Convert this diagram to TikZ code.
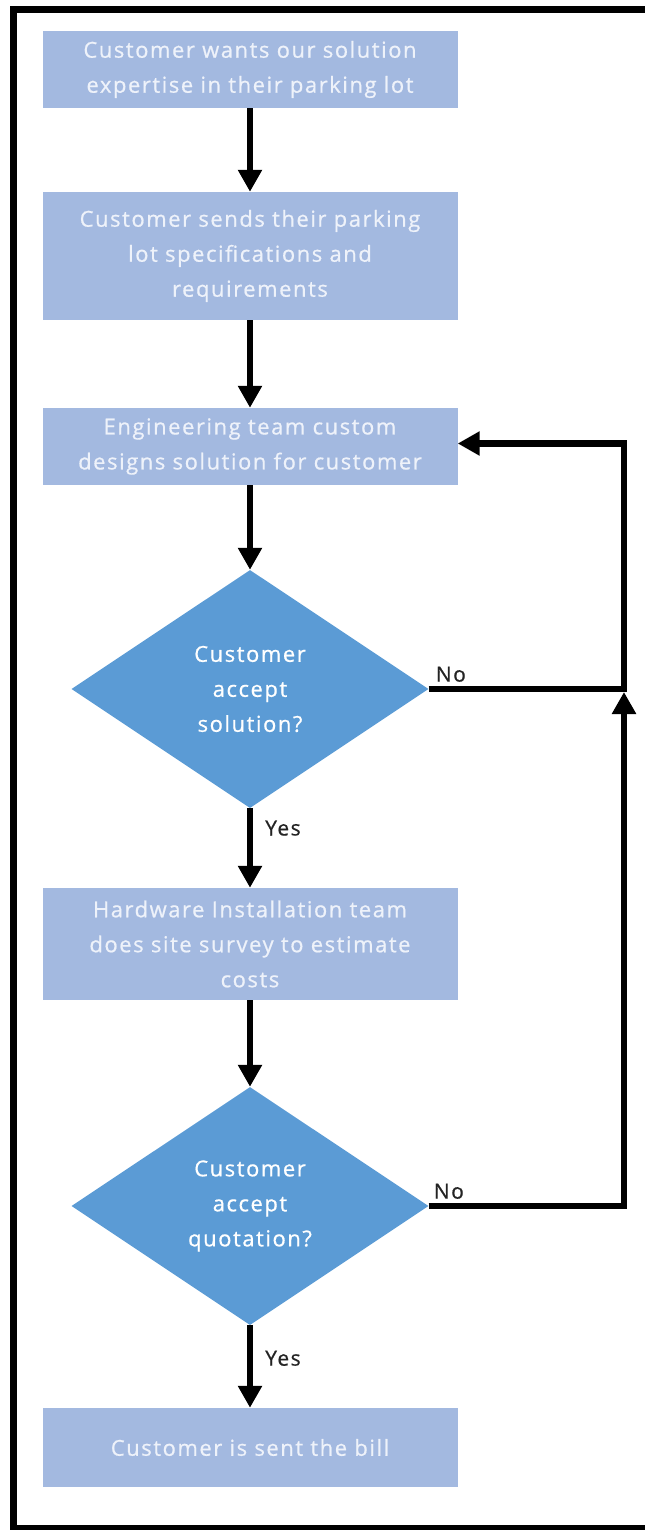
\documentclass[tikz,border=0pt]{standalone}
\usepackage{fontspec}
\newfontfamily\flowfont[LetterSpace=7,FakeBold=0.7]{Open Sans}
\usetikzlibrary{shapes.geometric,arrows.meta}

\definecolor{boxblue}{RGB}{163,185,224}
\definecolor{diablue}{RGB}{91,155,213}
\definecolor{boxtext}{RGB}{238,242,250}
\definecolor{lbltext}{RGB}{35,35,35}

\tikzset{
  stepbox/.style={rectangle, fill=boxblue, text=boxtext, minimum width=415pt,
    inner sep=0pt, align=center, font=\flowfont\fontsize{22}{35}\selectfont},
  decision/.style={diamond, fill=diablue, text=white, aspect=1.5,
    minimum width=357pt, minimum height=238pt, inner sep=0pt, align=center,
    font=\flowfont\fontsize{22}{35}\selectfont},
  flow/.style={line width=6.5pt, -{Triangle[length=22pt,width=23pt]}},
  lbl/.style={inner sep=0pt, text=lbltext, font=\flowfont\fontsize{21}{24}\selectfont},
}

\begin{document}
\begin{tikzpicture}[x=1pt,y=-1pt]
\useasboundingbox (0,0) rectangle (649,1530);

% outer frame: top, left and bottom edges, open on the right
\fill (10,6) rectangle (645,13);
\fill (10,6) rectangle (17,1530);
\fill (10,1525) rectangle (645,1530);

% process steps and decisions
\node[stepbox, minimum height=77pt] (b1) at (250,69.5)
  {Customer wants our solution\\expertise in their parking lot};
\node[stepbox, minimum height=128pt] (b2) at (250,256)
  {Customer sends their parking\\lot specifications and\\requirements};
\node[stepbox, minimum height=77pt] (b3) at (250,446.5)
  {Engineering team custom\\designs solution for customer};
\node[decision] (d1) at (250,689)
  {Customer\\accept\\solution?};
\node[stepbox, minimum height=112pt] (b4) at (250,944)
  {Hardware Installation team\\does site survey to estimate\\costs};
\node[decision] (d2) at (250,1206)
  {Customer\\accept\\quotation?};
\node[stepbox, minimum height=79pt] (b5) at (250,1447.5)
  {Customer is sent the bill};

% main flow
\draw[flow] (b1.south) -- (b2.north);
\draw[flow] (b2.south) -- (b3.north);
\draw[flow] (b3.south) -- (d1.north);
\draw[flow] (d1.south) -- node[lbl, pos=0.25, anchor=west, xshift=12pt] {Yes} (b4.north);
\draw[flow] (b4.south) -- (d2.north);
\draw[flow] (d2.south) -- node[lbl, pos=0.4, anchor=west, xshift=12pt] {Yes} (b5.north);

% loop back for rejected solution or quotation
\coordinate (j) at (624,689);
\draw[flow, line join=miter] (d1.east) -- (j) |- ([yshift=3pt]b3.east);
\draw[flow, line join=miter, shorten >=3pt] (d2.east) -- (d2.east -| j) -- (j);
\node[lbl, anchor=south west] (no1) at ([xshift=7pt,yshift=7pt]d1.east) {No};
\node[lbl, anchor=south west] (no2) at ([xshift=5pt,yshift=7pt]d2.east) {No};
\end{tikzpicture}
\end{document}
